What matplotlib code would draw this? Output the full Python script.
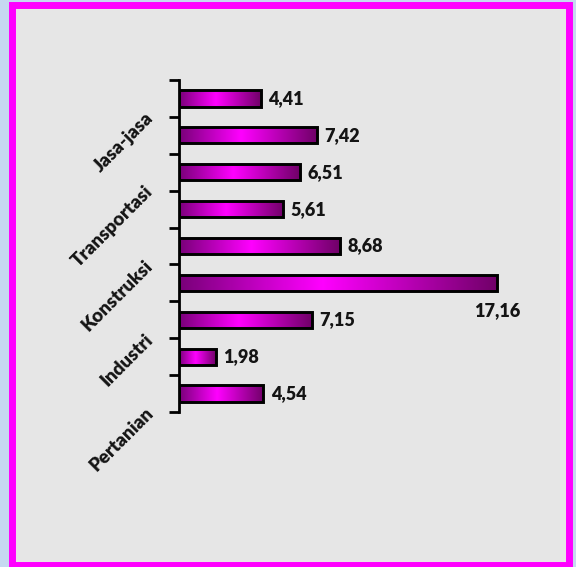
import numpy as np
import matplotlib
matplotlib.use("Agg")
import matplotlib.pyplot as plt
from matplotlib.patches import Rectangle
from matplotlib.colors import LinearSegmentedColormap

# growth by sector, bottom to top
values = [4.54, 1.98, 7.15, 17.16, 8.68, 5.61, 6.51, 7.42, 4.41]
value_labels = ["4,54", "1,98", "7,15", "17,16", "8,68", "5,61", "6,51", "7,42", "4,41"]
# only every other category gets a label
cat_labels = ["Pertanian", "", "Industri", "", "Konstruksi", "", "Transportasi", "", "Jasa-jasa"]

plt.rcParams["font.family"] = ["Lato", "DejaVu Sans"]
plt.rcParams["font.weight"] = "heavy"

fig = plt.figure(figsize=(5.76, 5.67), dpi=100)
fig.patch.set_facecolor("#c6d9f1")

# magenta frame around a light gray panel
frame = Rectangle((0.0217, 0.0044), 0.987 - 0.0217, 0.9912 - 0.0044,
                  transform=fig.transFigure, facecolor="#e6e6e6",
                  edgecolor="#ff00ff", linewidth=5.0, zorder=-10)
fig.patches.append(frame)

ax = fig.add_axes([0.3108, 0.2734, 0.644, 0.5855])
ax.set_facecolor("none")

grad = LinearSegmentedColormap.from_list(
    "bar", [(0.0, "#780078"), (0.45, "#ff00ff"), (1.0, "#700068")])
ramp = np.linspace(0, 1, 256).reshape(1, -1)

h = 0.44
ys = np.arange(len(values))
for y, v in zip(ys, values):
    im = ax.imshow(ramp, cmap=grad, aspect="auto", interpolation="bicubic",
                   extent=[0, v, y - h / 2, y + h / 2], zorder=2)
    r = Rectangle((0, y - h / 2), v, h, facecolor="none",
                  edgecolor="black", linewidth=2.1, zorder=3)
    ax.add_patch(r)
    im.set_clip_path(r)

for y, v, t in zip(ys, values, value_labels):
    if v > 15:
        ax.text(v, y - 0.74, t, ha="center", va="center",
                fontsize=13, fontweight="heavy", color="#141414")
    else:
        ax.text(v + 0.4, y, t, ha="left", va="center",
                fontsize=13, fontweight="heavy", color="#141414")

for y, t in zip(ys, cat_labels):
    if t:
        ax.text(-1.55, y - 0.45, t, ha="right", va="center", rotation=45,
                rotation_mode="anchor", fontsize=13.5, fontweight="heavy",
                color="#141414", clip_on=False)

ax.set_xlim(0, 20)
ax.set_ylim(-0.5, len(values) - 0.5)
ax.set_yticks(np.arange(-0.5, len(values), 1.0))
ax.set_yticklabels([])
ax.set_xticks([])
ax.tick_params(axis="y", direction="out", length=7, width=2.0, color="black")
for s in ["top", "right", "bottom"]:
    ax.spines[s].set_visible(False)
ax.spines["left"].set_linewidth(2.0)

fig.savefig("out.png", dpi=100, facecolor=fig.get_facecolor())
